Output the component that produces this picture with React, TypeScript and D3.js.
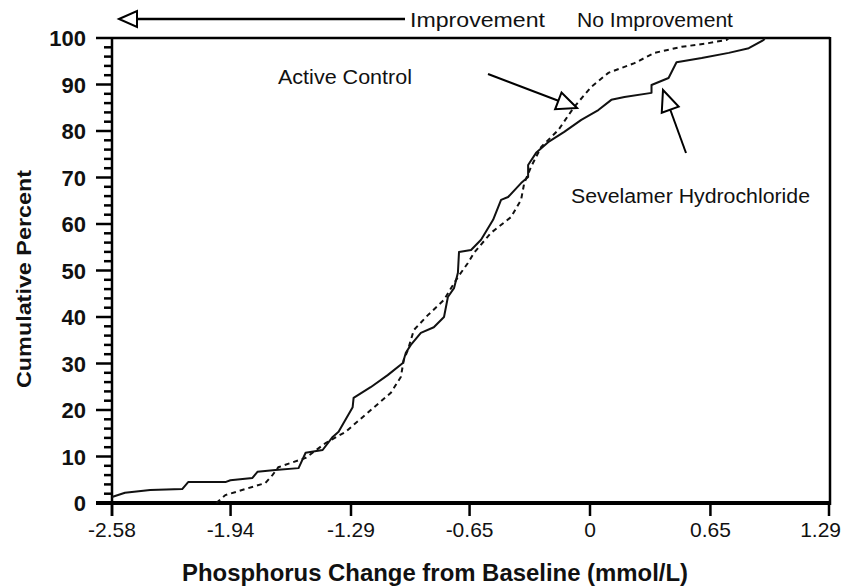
import React from "react";
import * as d3 from "d3";

const xTicks = [-2.58, -1.94, -1.29, -0.65, 0, 0.65, 1.29];
const xTickLabels = ["-2.58", "-1.94", "-1.29", "-0.65", "0", "0.65", "1.29"];
const yTicks = [0, 10, 20, 30, 40, 50, 60, 70, 80, 90, 100];

// Sevelamer Hydrochloride (solid)
const sevX = [-2.58, -2.51, -2.374, -2.201, -2.169, -1.968, -1.941, -1.822, -1.795, -1.698, -1.573, -1.535, -1.443, -1.389, -1.357, -1.33, -1.281, -1.276, -1.184, -1.092, -1.01, -0.994, -0.967, -0.913, -0.843, -0.788, -0.767, -0.734, -0.713, -0.707, -0.642, -0.588, -0.523, -0.48, -0.442, -0.372, -0.334, -0.334, -0.291, -0.263, -0.226, -0.139, -0.047, 0.045, 0.115, 0.186, 0.332, 0.332, 0.424, 0.467, 0.603, 0.749, 0.857, 0.938, 0.944];
const sevY = [1.3, 2.2, 2.8, 3.0, 4.5, 4.5, 4.9, 5.4, 6.7, 7.1, 7.5, 10.8, 11.4, 14.2, 15.3, 17.2, 20.6, 22.6, 24.9, 27.5, 30.1, 32.3, 34.0, 36.6, 37.8, 40.0, 44.3, 46.2, 49.5, 54.0, 54.4, 56.6, 60.9, 65.2, 65.8, 68.8, 70.1, 72.7, 75.3, 76.3, 77.6, 79.8, 82.4, 84.5, 86.7, 87.3, 88.2, 89.9, 91.4, 94.8, 95.7, 96.8, 97.8, 99.6, 100];

// Active Control (dashed)
const ctlX = [-2.017, -1.968, -1.752, -1.714, -1.682, -1.535, -1.427, -1.319, -1.2, -1.075, -1.021, -1.005, -0.983, -0.951, -0.875, -0.788, -0.713, -0.659, -0.626, -0.534, -0.426, -0.372, -0.355, -0.318, -0.263, -0.171, -0.085, 0.007, 0.099, 0.24, 0.348, 0.494, 0.64, 0.738, 0.749];
const ctlY = [0, 1.7, 4.3, 6.0, 7.7, 9.7, 12.9, 15.3, 19.4, 23.7, 27.1, 30.8, 32.9, 37.2, 40.4, 43.7, 48.6, 51.6, 53.8, 58.1, 61.5, 65.2, 68.8, 72.3, 76.6, 80.2, 85.2, 89.5, 92.5, 94.6, 96.8, 98.1, 98.9, 99.6, 100];

const FONT = "'Liberation Sans Narrow', 'Liberation Sans', Arial, sans-serif";

export default function App() {
  const W = 843, H = 587;
  const x = d3.scaleLinear().domain([-2.58, 1.29]).range([112, 829]);
  const y = d3.scaleLinear().domain([0, 100]).range([503, 38]);

  const line = d3
    .line<[number, number]>()
    .x((d) => x(d[0]))
    .y((d) => y(d[1]));

  const sev = sevX.map((v, i) => [v, sevY[i]] as [number, number]);
  const ctl = ctlX.map((v, i) => [v, ctlY[i]] as [number, number]);

  const minor = d3.range(0, 101, 2).filter((v) => v % 10 !== 0);

  const triangle = (tip: [number, number], from: [number, number], len: number, half: number) => {
    const dx = tip[0] - from[0], dy = tip[1] - from[1];
    const L = Math.hypot(dx, dy);
    const ux = dx / L, uy = dy / L;
    const bx = tip[0] - ux * len, by = tip[1] - uy * len;
    const px = -uy, py = ux;
    return `M${tip[0]},${tip[1]}L${bx + px * half},${by + py * half}L${bx - px * half},${by - py * half}Z`;
  };

  const acFrom: [number, number] = [488, 74];
  const acTip: [number, number] = [577, 108];
  const svFrom: [number, number] = [686, 153];
  const svTip: [number, number] = [663, 90];

  return (
    <svg width={W} height={H} style={{ position: "absolute", left: 0, top: 0, background: "#fff" }}>
      <rect x={0} y={0} width={W} height={H} fill="#fff" />
      {/* frame */}
      <line x1={112} y1={38} x2={830} y2={38} stroke="#000" strokeWidth={2.5} />
      <line x1={830} y1={37} x2={830} y2={505} stroke="#000" strokeWidth={2.5} />
      <line x1={96} y1={503} x2={831} y2={503} stroke="#000" strokeWidth={4} />
      <line x1={112} y1={37} x2={112} y2={516} stroke="#000" strokeWidth={2.5} />

      {/* y ticks */}
      {yTicks.map((t) => (
        <g key={"y" + t}>
          <line x1={96} x2={112} y1={y(t)} y2={y(t)} stroke="#000" strokeWidth={2.5} />
          <text x={86} y={y(t) + 8} textAnchor="end" fontFamily={FONT} fontWeight="bold" fontSize={22} fill="#111">
            {t}
          </text>
        </g>
      ))}
      {minor.map((t) => (
        <line key={"m" + t} x1={104} x2={112} y1={y(t)} y2={y(t)} stroke="#000" strokeWidth={2.5} />
      ))}

      {/* x ticks */}
      {xTicks.map((t, i) => {
        const last = i === xTicks.length - 1;
        return (
          <g key={"x" + t}>
            <line x1={x(t)} x2={x(t)} y1={503} y2={516} stroke="#000" strokeWidth={2.5} />
            <text
              x={last ? 841 : x(t)}
              y={537}
              textAnchor={last ? "end" : "middle"}
              fontFamily={FONT}
              fontSize={21}
              fill="#111"
            >
              {xTickLabels[i]}
            </text>
          </g>
        );
      })}

      {/* curves */}
      <path d={line(ctl) || ""} fill="none" stroke="#111" strokeWidth={2} strokeDasharray="5,4" />
      <path d={line(sev) || ""} fill="none" stroke="#111" strokeWidth={2} strokeLinejoin="round" />

      {/* axis titles */}
      <text x={435} y={581} textAnchor="middle" fontFamily={FONT} fontWeight="bold" fontSize={24} fill="#111" textLength={506} lengthAdjust="spacingAndGlyphs">
        Phosphorus Change from Baseline (mmol/L)
      </text>
      <text transform="translate(31,279) rotate(-90)" textAnchor="middle" fontFamily={FONT} fontWeight="bold" fontSize={21} fill="#111" textLength={218} lengthAdjust="spacingAndGlyphs">
        Cumulative Percent
      </text>

      {/* top improvement arrow */}
      <line x1={135} y1={19} x2={405} y2={19} stroke="#000" strokeWidth={2.5} />
      <path d={triangle([119, 19], [405, 19], 18, 8)} fill="#fff" stroke="#000" strokeWidth={2} />
      <text x={410} y={27} fontFamily={FONT} fontSize={20} fill="#111" textLength={135} lengthAdjust="spacingAndGlyphs">
        Improvement
      </text>
      <text x={577} y={27} fontFamily={FONT} fontSize={20} fill="#111" textLength={156} lengthAdjust="spacingAndGlyphs">
        No Improvement
      </text>

      {/* annotations */}
      <text x={278} y={84} fontFamily={FONT} fontSize={20} fill="#111" textLength={134} lengthAdjust="spacingAndGlyphs">
        Active Control
      </text>
      <line x1={acFrom[0]} y1={acFrom[1]} x2={559} y2={101} stroke="#000" strokeWidth={2} />
      <path d={triangle(acTip, acFrom, 20, 9)} fill="#fff" stroke="#000" strokeWidth={2} />

      <text x={571} y={203} fontFamily={FONT} fontSize={20} fill="#111" textLength={239} lengthAdjust="spacingAndGlyphs">
        Sevelamer Hydrochloride
      </text>
      <line x1={svFrom[0]} y1={svFrom[1]} x2={670} y2={109} stroke="#000" strokeWidth={2} />
      <path d={triangle(svTip, svFrom, 21, 9)} fill="#fff" stroke="#000" strokeWidth={2} />
    </svg>
  );
}
